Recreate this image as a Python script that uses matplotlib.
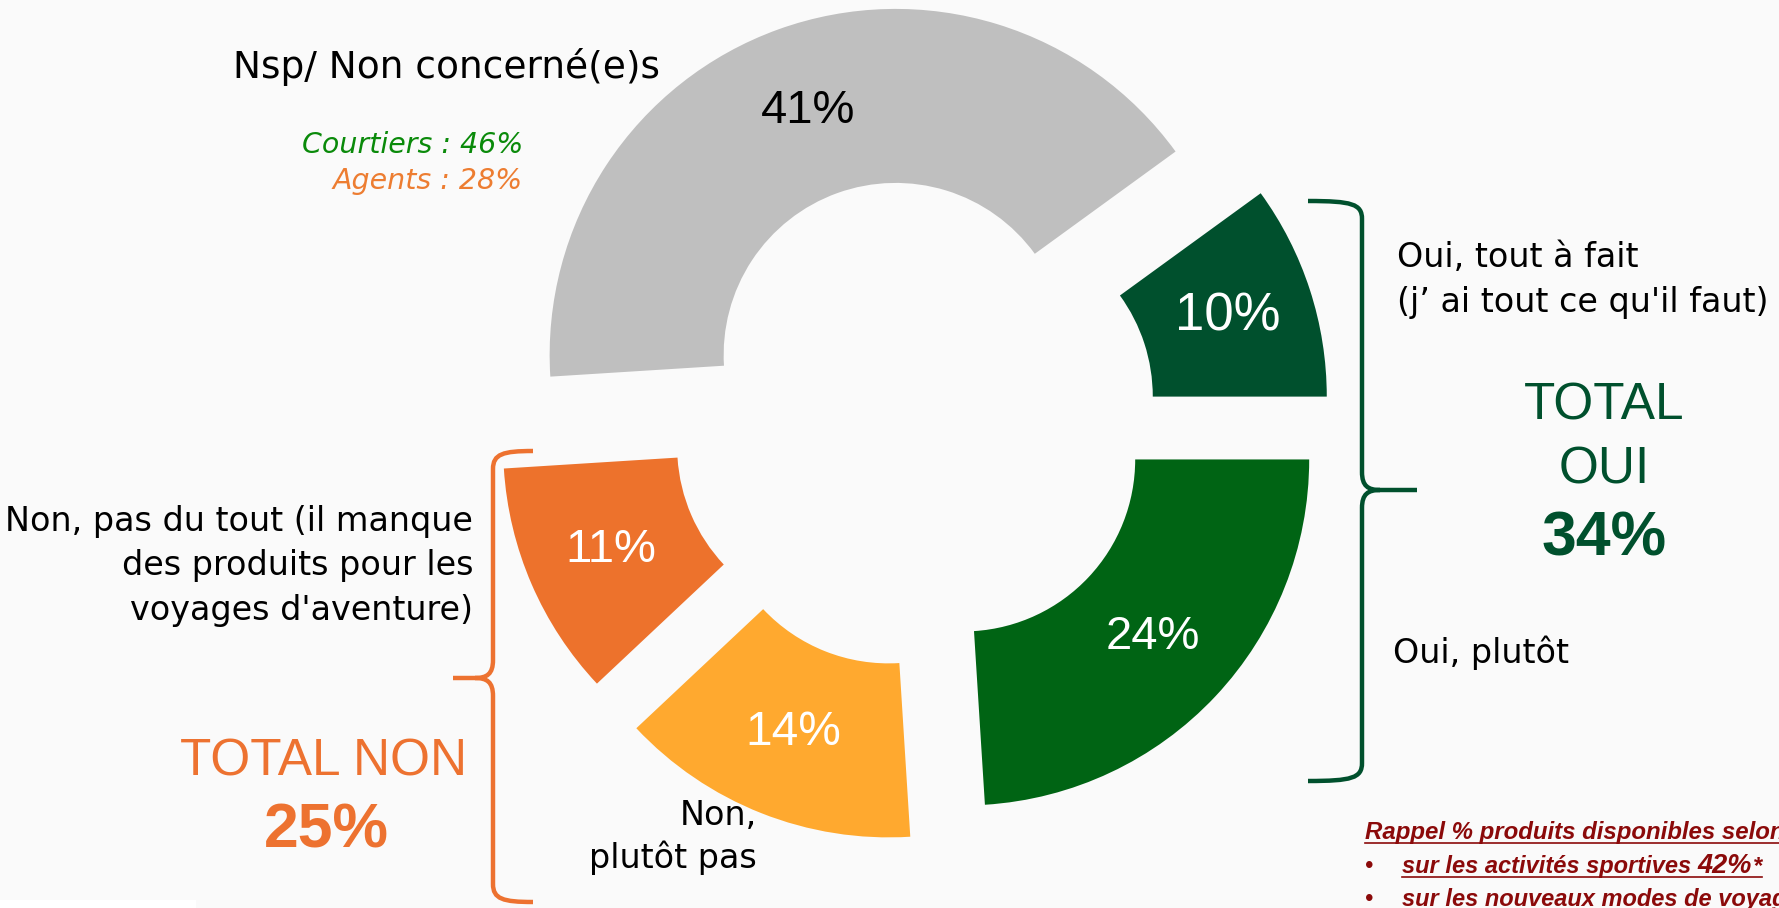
import matplotlib
matplotlib.use("Agg")
import matplotlib.pyplot as plt
from matplotlib.path import Path
from matplotlib.patches import PathPatch, Rectangle

W, H = 1779, 908

# ---------------- data ----------------
categories = ["Oui, tout à fait (j’ai tout ce qu'il faut)",
              "Nsp/ Non concerné(e)s",
              "Non, pas du tout (il manque des produits pour les voyages d'aventure)",
              "Non, plutôt pas",
              "Oui, plutôt"]
values = [10, 41, 11, 14, 24]
colors = ["#00502D", "#BFBFBF", "#ED722C", "#FFA92F", "#006414"]
pct_colors = ["white", "black", "white", "white", "white"]
pct_sizes = [38, 34, 34, 34.5, 34]
explode_px = [66, 66, 75, 80, 62]

total_oui = 34
total_non = 25
sub_labels = ["Courtiers : 46%", "Agents : 28%"]
sub_colors = ["#0A8A0A", "#ED7D31"]
rappel_title = "Rappel % produits disponibles selon"
rappel_line2 = ["sur les activités sportives", "42%", "*"]
rappel_line3 = "sur les nouveaux modes de voyage"

BG = "#FAFAFA"
GREEN_T = "#00502D"
ORANGE_T = "#ED7230"
RED = "#8B0A0A"


def Y(y):
    return H - y


fig = plt.figure(figsize=(W / 100, H / 100), dpi=100, facecolor=BG)
ax = fig.add_axes([0, 0, 1, 1])
ax.set_facecolor(BG)

wedges, texts, autotexts = ax.pie(
    values, colors=colors, explode=explode_px, startangle=0, counterclock=True,
    radius=346, center=(918, Y(417)),
    wedgeprops=dict(width=174, linewidth=0),
    autopct=lambda p: f"{p:.0f}%", pctdistance=0.75,
    textprops=dict(fontsize=34, family="Liberation Sans"))
for t, c, s in zip(autotexts, pct_colors, pct_sizes):
    t.set_color(c)
    t.set_fontsize(s)

ax.set_xlim(0, W)
ax.set_ylim(0, H)
ax.set_aspect("equal")
ax.axis("off")

LAB = dict(family="DejaVu Sans", color="black", va="baseline")

ax.text(233, Y(78), "Nsp/ Non concerné(e)s", fontsize=27, ha="left", **LAB)
ax.text(523, Y(153), sub_labels[0], fontsize=20.5, style="italic", ha="right",
        family="DejaVu Sans", color=sub_colors[0], va="baseline")
ax.text(523, Y(189), sub_labels[1], fontsize=20.5, style="italic", ha="right",
        family="DejaVu Sans", color=sub_colors[1], va="baseline")

ax.text(1397, Y(267), "Oui, tout à fait", fontsize=24, ha="left", **LAB)
ax.text(1397, Y(312), "(j’ ai tout ce qu'il faut)", fontsize=24, ha="left", **LAB)
ax.text(1393, Y(663), "Oui, plutôt", fontsize=24, ha="left", **LAB)

for yy, s in zip([531, 575, 620], ["Non, pas du tout (il manque", "des produits pour les",
                                   "voyages d'aventure)"]):
    ax.text(473, Y(yy), s, fontsize=24, ha="right", **LAB)
ax.text(757, Y(825), "Non,", fontsize=24, ha="right", **LAB)
ax.text(757, Y(868), "plutôt pas", fontsize=24, ha="right", **LAB)

TOT = dict(family="Liberation Sans", ha="center", va="baseline")
ax.text(1604, Y(419), "TOTAL", fontsize=37, color=GREEN_T, **TOT)
ax.text(1604, Y(484), "OUI", fontsize=37, color=GREEN_T, **TOT)
ax.text(1604, Y(555), f"{total_oui}%", fontsize=45, fontweight="bold", color=GREEN_T, **TOT)
ax.text(324, Y(775), "TOTAL NON", fontsize=37, color=ORANGE_T, **TOT)
ax.text(326, Y(848), f"{total_non}%", fontsize=45, fontweight="bold", color=ORANGE_T, **TOT)


def brace(x_spine, x_end, x_tip, y_top, y_mid, y_bot, color, lw):
    s = 1 if x_tip > x_spine else -1
    k = 18
    verts = [
        (x_end, y_top),
        (x_spine - s * 10, y_top), (x_spine, y_top + 3), (x_spine, y_top + k),
        (x_spine, y_mid - k),
        (x_spine, y_mid - 4), (x_spine + s * 6, y_mid), (x_spine + s * k, y_mid),
        (x_tip, y_mid),
        (x_spine + s * k, y_mid),
        (x_spine + s * 6, y_mid), (x_spine, y_mid + 4), (x_spine, y_mid + k),
        (x_spine, y_bot - k),
        (x_spine, y_bot - 3), (x_spine - s * 10, y_bot), (x_end, y_bot),
    ]
    codes = [Path.MOVETO,
             Path.CURVE4, Path.CURVE4, Path.CURVE4,
             Path.LINETO,
             Path.CURVE4, Path.CURVE4, Path.CURVE4,
             Path.LINETO,
             Path.MOVETO,
             Path.CURVE4, Path.CURVE4, Path.CURVE4,
             Path.LINETO,
             Path.CURVE4, Path.CURVE4, Path.CURVE4]
    verts = [(x, Y(y)) for x, y in verts]
    ax.add_patch(PathPatch(Path(verts, codes), facecolor="none", edgecolor=color,
                           lw=lw, capstyle="butt", joinstyle="round"))


brace(1362, 1308, 1417, 201, 490, 781, GREEN_T, 3.2)
brace(493, 533, 453, 451, 678, 902, ORANGE_T, 3.2)

ax.add_patch(Rectangle((0, 0), 196, 8, facecolor="white", edgecolor="none"))

# Rappel block
RP = dict(family="Liberation Sans", fontweight="bold", style="italic", color=RED,
          va="baseline", ha="left")
t1 = ax.text(1365, Y(839), rappel_title, fontsize=17.3, **RP)
ax.text(1365, Y(873), "•", fontsize=16.5, **RP)
t2a = ax.text(1402, Y(873), rappel_line2[0], fontsize=17, **RP)
fig.canvas.draw()
r = fig.canvas.get_renderer()
b2a = t2a.get_window_extent(r)
t2b = ax.text(b2a.x1 + 6, Y(873), rappel_line2[1], fontsize=19.5, **RP)
b2b = t2b.get_window_extent(r)
t2c = ax.text(b2b.x1 + 1, Y(873), rappel_line2[2], fontsize=17, **RP)
ax.text(1365, Y(906), "•", fontsize=16.5, **RP)
ax.text(1402, Y(906), rappel_line3, fontsize=17, **RP)
fig.canvas.draw()
b1 = t1.get_window_extent(r)
b2c = t2c.get_window_extent(r)
ax.plot([b1.x0, W], [Y(843), Y(843)], color=RED, lw=1.2)
ax.plot([b2a.x0, b2c.x1], [Y(877), Y(877)], color=RED, lw=1.2)

fig.savefig("out.png", dpi=100, facecolor=BG)
